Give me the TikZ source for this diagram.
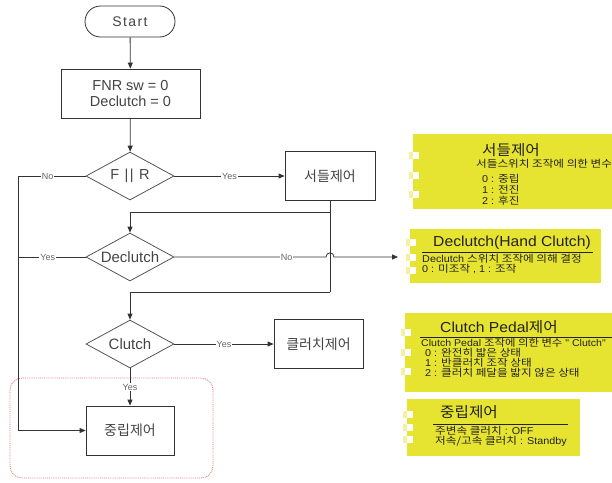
\documentclass[tikz,border=0pt]{standalone}
\usepackage{fontspec}
\setmainfont{Liberation Sans}
\newfontfamily\kr{Noto Sans CJK KR}
\newfontfamily\spacedsans[LetterSpace=10]{Liberation Sans}
\newfontfamily\krbody[FakeStretch=1.16]{Noto Sans CJK KR}
\newfontfamily\latbody[FakeStretch=1.08]{Liberation Sans}
\newfontfamily\krtitle[FakeStretch=1.08]{Noto Sans CJK KR}
\newfontfamily\lattitle[FakeStretch=1.08]{Liberation Sans}
\usetikzlibrary{shapes.geometric,arrows.meta}

\definecolor{lineclr}{HTML}{333333}
\definecolor{shapeclr}{HTML}{555555}
\definecolor{txtclr}{HTML}{444444}
\definecolor{lblclr}{HTML}{666666}
\definecolor{noteclr}{RGB}{230,228,48}
\definecolor{holeclr}{RGB}{244,242,160}
\definecolor{groupclr}{RGB}{226,120,120}
\definecolor{notetxt}{HTML}{222222}

\tikzset{
  x=1pt, y=-1pt,
  flow/.style={draw=lineclr, line width=0.8pt},
  arr/.style={flow, -{Triangle[length=6pt,width=5pt]}},
  procbox/.style={draw=lineclr, line width=0.8pt, fill=white, minimum width=#1,
    minimum height=49pt, inner sep=0pt, text=txtclr, font=\kr\fontsize{14}{16}\selectfont},
  procbox/.default=90pt,
  terminal/.style={draw=lineclr, line width=0.8pt, rounded corners=15.5pt,
    minimum width=90pt, minimum height=31pt, inner sep=0pt, text=txtclr,
    font=\spacedsans\fontsize{14}{16}\selectfont},
  decision/.style={diamond, draw=shapeclr, line width=0.8pt, aspect=1.83,
    minimum width=88pt, minimum height=48pt, inner sep=0pt, text=txtclr,
    font=\fontsize{15}{16}\selectfont},
  lbl/.style={fill=white, inner sep=1pt, text=lblclr, font=\fontsize{9}{10}\selectfont},
  notebox/.style={fill=noteclr, draw=none},
  notetitle/.style={inner sep=0pt, text=notetxt, font=\lattitle\fontsize{14.5}{16}\selectfont},
  notebody/.style={inner sep=0pt, anchor=west, text=notetxt, font=\latbody\fontsize{10}{11}\selectfont},
  rule/.style={draw=notetxt, line width=0.8pt},
  hole/.pic={\fill[holeclr] (-4,-3.5) rectangle (0,3.5); \fill[white] (0,-3.5) rectangle (6,3.5);},
  group/.style={draw=groupclr, densely dotted, line width=0.9pt, rounded corners=12pt}
}

\begin{document}
\begin{tikzpicture}
\useasboundingbox (0,0) rectangle (612,482);

% dotted group round the neutral control step
\draw[group] (10,378) rectangle (213,478);

% flowchart nodes
\node[terminal] (start) at (130,21.5) {Start};
\node[procbox=139pt, align=center, font=\fontsize{14.5}{16}\selectfont] (init) at (130.5,93.5) {FNR sw = 0\\Declutch = 0};
\node[decision, font=\spacedsans\fontsize{14.5}{16}\selectfont] (fr) at (130,176) {F || R};
\node[procbox=90pt] (shuttle) at (330,176) {서들제어};
\node[decision] (declutch) at (130,257) {Declutch};
\node[decision] (clutch) at (130,344) {Clutch};
\node[procbox=89pt] (clutchctl) at (318.5,344) {클러치제어};
\node[procbox=88pt] (neutral) at (130,430.5) {중립제어};

% routing points
\coordinate (rail) at (18,176);
\coordinate (split1) at (330,212);
\coordinate (split2) at (330,292);
\coordinate (hopL) at (326,257);
\coordinate (hopR) at (334,257);
\coordinate (decout) at (398,257);

% connectors
\draw[arr] (start) -- (init);
\draw[arr] (init) -- (fr);
\draw[arr] (fr.west) -- node[lbl, pos=0.56] {No} (rail) |- (neutral.west);
\draw[arr] (fr.east) -- node[lbl] {Yes} (shuttle.west);
\draw[flow] (shuttle.south) -- (split2);
\draw[arr] (split1) -| (declutch.north);
\draw[arr] (split2) -| (clutch.north);
\draw[flow] (declutch.west) -- node[lbl, pos=0.56] {Yes} (declutch.west -| rail);
\draw[arr] (declutch.east) -- node[lbl, pos=0.74] {No} (hopL)
  .. controls +(0,-5.5) and +(0,-5.5) .. (hopR) -- (decout);
\draw[arr] (clutch.east) -- node[lbl] {Yes} (clutchctl.west);
\draw[arr] (clutch.south) -- node[lbl] {Yes} (neutral.north);

% note: shuttle switch
\fill[notebox] (413,134) rectangle (612,209);
\foreach \yy in {155,175,194} \pic at (413,\yy) {hole};
\node[notetitle, anchor=west] (n1t) at (482,150) {\krtitle 서들제어};
\node[notebody] (n1a) at (476,164) {\krbody 서들스위치 조작에 의한 변수};
\node[notebody] (n1b) at (482,179) {0 : {\krbody 중립}};
\node[notebody] (n1c) at (482,190) {1 : {\krbody 전진}};
\node[notebody] (n1d) at (482,201) {2 : {\krbody 후진}};

% note: hand clutch
\fill[notebox] (410,229) rectangle (601,283);
\foreach \yy in {242,257,270} \pic at (410,\yy) {hole};
\node[notetitle] (n2t) at (512,243) {Declutch(Hand Clutch)};
\draw[rule] (422,252) -- (593,252);
\node[notebody] (n2a) at (422,259) {Declutch {\krbody 스위치 조작에 의해 결정}};
\node[notebody] (n2b) at (422,269) {0 : {\krbody 미조작} , 1 : {\krbody 조작}};

% note: clutch pedal
\fill[notebox] (405,313) rectangle (612,392);
\foreach \yy in {332,352,371} \pic at (405,\yy) {hole};
\node[notetitle] (n3t) at (499,327) {Clutch Pedal{\krtitle 제어}};
\draw[rule] (420,337) -- (612,337);
\node[notebody, font=\latbody\fontsize{9.8}{11}\selectfont] (n3a) at (421,342.5) {Clutch Pedal {\krbody 조작에 의한 변수} " Clutch"};
\node[notebody] (n3b) at (425,352.5) {0 : {\krbody 완전히 밟은 상태}};
\node[notebody] (n3c) at (425,362.5) {1 : {\krbody 반클러치 조작 상태}};
\node[notebody] (n3d) at (425,372.5) {2 : {\krbody 클러치 페달을 밟지 않은 상태}};

% note: neutral control
\fill[notebox] (407,399) rectangle (580,456);
\foreach \yy in {414,427,439} \pic at (407,\yy) {hole};
\node[notetitle] (n4t) at (469,412) {\krtitle 중립제어};
\draw[rule] (433,424) -- (568,424);
\node[notebody] (n4a) at (435,431) {{\krbody 주변속 클러치} : OFF};
\node[notebody] (n4b) at (435,441) {{\krbody 저속/고속 클러치} : Standby};
\end{tikzpicture}
\end{document}
